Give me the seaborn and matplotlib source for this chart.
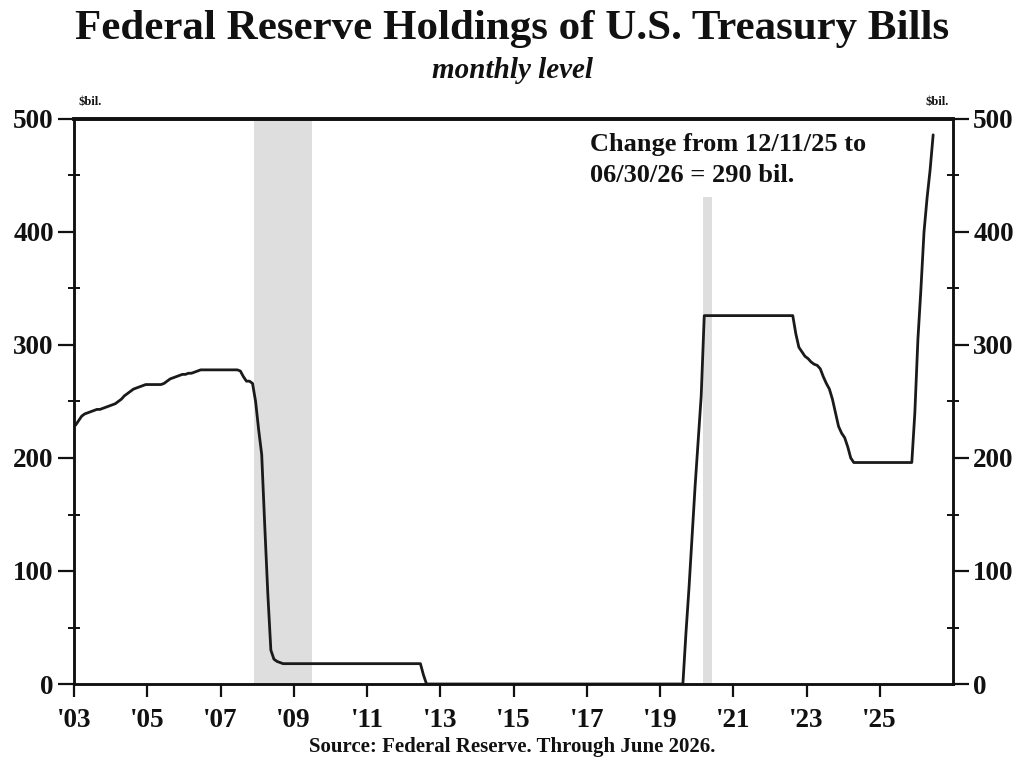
import numpy as np
import pandas as pd
import matplotlib
matplotlib.use("Agg")
import matplotlib.pyplot as plt
import seaborn as sns
from matplotlib.ticker import MultipleLocator, FixedLocator

# ---- data: Fed holdings of T-bills, $bil., monthly (Jan 2003 - Jun 2026) ----
start_year = 2003
holdings = [
    # 2003
    229, 233, 237, 239, 240, 241, 242, 243, 243, 244, 245, 246,
    # 2004
    247, 248, 250, 252, 255, 257, 259, 261, 262, 263, 264, 265,
    # 2005
    265, 265, 265, 265, 265, 266, 268, 270, 271, 272, 273, 274,
    # 2006
    274, 275, 275, 276, 277, 278, 278, 278, 278, 278, 278, 278,
    # 2007
    278, 278, 278, 278, 278, 278, 277, 272, 268, 268, 266, 250,
    # 2008
    225, 203, 140, 80, 30, 22, 20, 19, 18, 18, 18, 18,
    # 2009
    18, 18, 18, 18, 18, 18, 18, 18, 18, 18, 18, 18,
    # 2010
    18, 18, 18, 18, 18, 18, 18, 18, 18, 18, 18, 18,
    # 2011
    18, 18, 18, 18, 18, 18, 18, 18, 18, 18, 18, 18,
    # 2012
    18, 18, 18, 18, 18, 18, 8, 0, 0, 0, 0, 0,
    # 2013
    0, 0, 0, 0, 0, 0, 0, 0, 0, 0, 0, 0,
    # 2014
    0, 0, 0, 0, 0, 0, 0, 0, 0, 0, 0, 0,
    # 2015
    0, 0, 0, 0, 0, 0, 0, 0, 0, 0, 0, 0,
    # 2016
    0, 0, 0, 0, 0, 0, 0, 0, 0, 0, 0, 0,
    # 2017
    0, 0, 0, 0, 0, 0, 0, 0, 0, 0, 0, 0,
    # 2018
    0, 0, 0, 0, 0, 0, 0, 0, 0, 0, 0, 0,
    # 2019
    0, 0, 0, 0, 0, 0, 0, 0, 45, 85, 130, 175,
    # 2020
    215, 255, 326, 326, 326, 326, 326, 326, 326, 326, 326, 326,
    # 2021
    326, 326, 326, 326, 326, 326, 326, 326, 326, 326, 326, 326,
    # 2022
    326, 326, 326, 326, 326, 326, 326, 326, 310, 298, 294, 290,
    # 2023
    288, 285, 283, 282, 279, 272, 266, 261, 252, 240, 228, 222,
    # 2024
    218, 210, 200, 196, 196, 196, 196, 196, 196, 196, 196, 196,
    # 2025
    196, 196, 196, 196, 196, 196, 196, 196, 196, 196, 196, 240,
    # 2026
    305, 350, 400, 430, 455, 486,
]

recessions = [(2007.92, 2009.5, 500), (2020.17, 2020.42, 431)]
x_tick_years = [2003, 2005, 2007, 2009, 2011, 2013, 2015, 2017, 2019, 2021, 2023, 2025]
x_tick_labels = ["'03", "'05", "'07", "'09", "'11", "'13", "'15", "'17", "'19", "'21", "'23", "'25"]
y_ticks = [0, 100, 200, 300, 400, 500]

title = "Federal Reserve Holdings of U.S. Treasury Bills"
subtitle = "monthly level"
note = "Change from 12/11/25 to\n06/30/26 = 290 bil."
source = "Source: Federal Reserve. Through June 2026."

# mid-month positions in decimal years
df = pd.DataFrame({"value": holdings})
df["year"] = start_year + (np.arange(len(df)) + 0.5) / 12.0

sns.set_style("ticks")
plt.rcParams["font.family"] = ["Liberation Serif", "DejaVu Serif"]
plt.rcParams["font.weight"] = "bold"

fig = plt.figure(figsize=(10.24, 7.62), dpi=100)
ax = fig.add_axes([74/1024, 78/762, 879/1024, 565/762])

for x0, x1, top in recessions:
    ax.axvspan(x0, x1, ymin=0, ymax=top/500, color="#dedede", lw=0, zorder=0)

sns.lineplot(data=df, x="year", y="value", ax=ax, color="#1a1a1a", lw=2.0, zorder=3)

ax.set_xlim(2003, 2027)
ax.set_ylim(0, 500)
ax.set_xlabel("")
ax.set_ylabel("")
ax.xaxis.set_major_locator(FixedLocator(x_tick_years))
ax.set_xticklabels(x_tick_labels)
ax.yaxis.set_major_locator(FixedLocator(y_ticks))
ax.yaxis.set_minor_locator(MultipleLocator(50))

ax2 = ax.twinx()
ax2.set_ylim(0, 500)
ax2.yaxis.set_major_locator(FixedLocator(y_ticks))
ax2.yaxis.set_minor_locator(MultipleLocator(50))

for a in (ax, ax2):
    for s in a.spines.values():
        s.set_visible(True)
        s.set_linewidth(1.8)
        s.set_color("#111111")
    a.spines["top"].set_linewidth(2.6)
    a.tick_params(axis="y", which="major", direction="out", length=11.5, width=1.6,
                  labelsize=19.5, colors="#111111", pad=3)
    a.tick_params(axis="y", which="minor", direction="inout", length=8, width=1.4,
                  colors="#111111")
ax.tick_params(axis="x", which="major", direction="out", length=9.5, width=1.6,
               labelsize=19.5, colors="#111111", pad=8)
for lab in ax.get_xticklabels() + ax.get_yticklabels() + ax2.get_yticklabels():
    lab.set_fontweight("bold")

ax.text(0.005, 1.02, r"\$bil.", transform=ax.transAxes, ha="left", va="bottom",
        fontsize=9, fontweight="bold", color="#111111")
ax.text(0.995, 1.02, r"\$bil.", transform=ax.transAxes, ha="right", va="bottom",
        fontsize=9, fontweight="bold", color="#111111")

ax.text(2017.1, 488, note, ha="left", va="top", fontsize=19, fontweight="bold",
        linespacing=1.45, color="#111111", zorder=4)

fig.text(0.5, 0.962, title, ha="center", va="center", fontsize=31, fontweight="bold",
         color="#111111")
fig.text(0.5, 0.908, subtitle, ha="center", va="center", fontsize=21, fontweight="bold",
         style="italic", color="#111111")
fig.text(0.5, 0.020, source, ha="center", va="center", fontsize=15, fontweight="bold",
         color="#111111")

fig.savefig("out.png", dpi=100)
